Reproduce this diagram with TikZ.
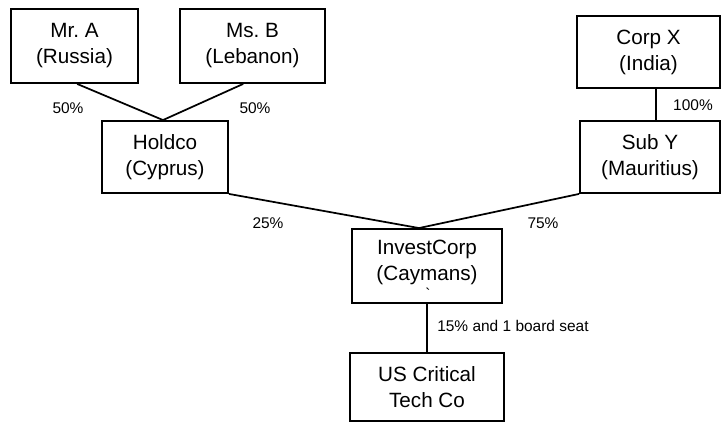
\documentclass[tikz,border=0pt]{standalone}
\usepackage{fontspec}
\setmainfont{Liberation Sans}
\begin{document}
\begin{tikzpicture}[x=0.75pt,y=-0.75pt,
  entity/.style={draw=black,line width=1.4pt,inner sep=0pt,align=center,
    font=\fontsize{15.5}{19.5}\selectfont},
  pct/.style={inner sep=0pt,font=\fontsize{11.6}{14}\selectfont},
  link/.style={draw=black,line width=1.3pt}]
\useasboundingbox (0,0) rectangle (721,423);
\node[entity,minimum width=95.25pt,minimum height=55.5pt] (MrA) at (74.5,46) {Mr.\ A\\(Russia)};
\node[entity,minimum width=108.75pt,minimum height=55.5pt] (MsB) at (252.5,46) {Ms.\ B\\(Lebanon)};
\node[entity,minimum width=107.25pt,minimum height=54pt] (CorpX) at (648.5,52) {Corp X\\(India)};
\node[entity,minimum width=94.5pt,minimum height=54pt] (Holdco) at (165,157) {Holdco\\(Cyprus)};
\node[entity,minimum width=105pt,minimum height=54pt] (SubY) at (650,157) {Sub Y\\(Mauritius)};
\node[entity,minimum width=112.5pt,minimum height=55.5pt] (Invest) at (427,266) {};
\node[align=center,inner sep=0pt,font=\fontsize{15.5}{19.5}\selectfont] (InvestText) at (427,262) {InvestCorp\\(Caymans)};
\node[entity,minimum width=115.5pt,minimum height=51pt] (US) at (427,387) {US Critical\\Tech Co};
\node[pct] (tick) at (428,294) {\textasciigrave};

\draw[link] ([xshift=2pt]MrA.south) -- ([xshift=-1.5pt]Holdco.north);
\draw[link] ([xshift=-7pt]MsB.south) -- ([xshift=-1.5pt]Holdco.north);
\draw[link] ([xshift=5.6pt]CorpX.south) -- ([xshift=5.6pt]CorpX.south |- SubY.north);
\draw[link] (Holdco.south east) -- ([xshift=-6pt]Invest.north);
\draw[link] (SubY.south west) -- ([xshift=-6pt]Invest.north);
\draw[link] (Invest.south) -- (US.north);

\node[pct] (l1) at (68,108) {50\%};
\node[pct] (l2) at (255,108) {50\%};
\node[pct] (l3) at (693,105) {100\%};
\node[pct] (l4) at (268,223) {25\%};
\node[pct] (l5) at (543,223) {75\%};
\node[pct,anchor=west] (l6) at (437,326) {15\% and 1 board seat};
\end{tikzpicture}
\end{document}
